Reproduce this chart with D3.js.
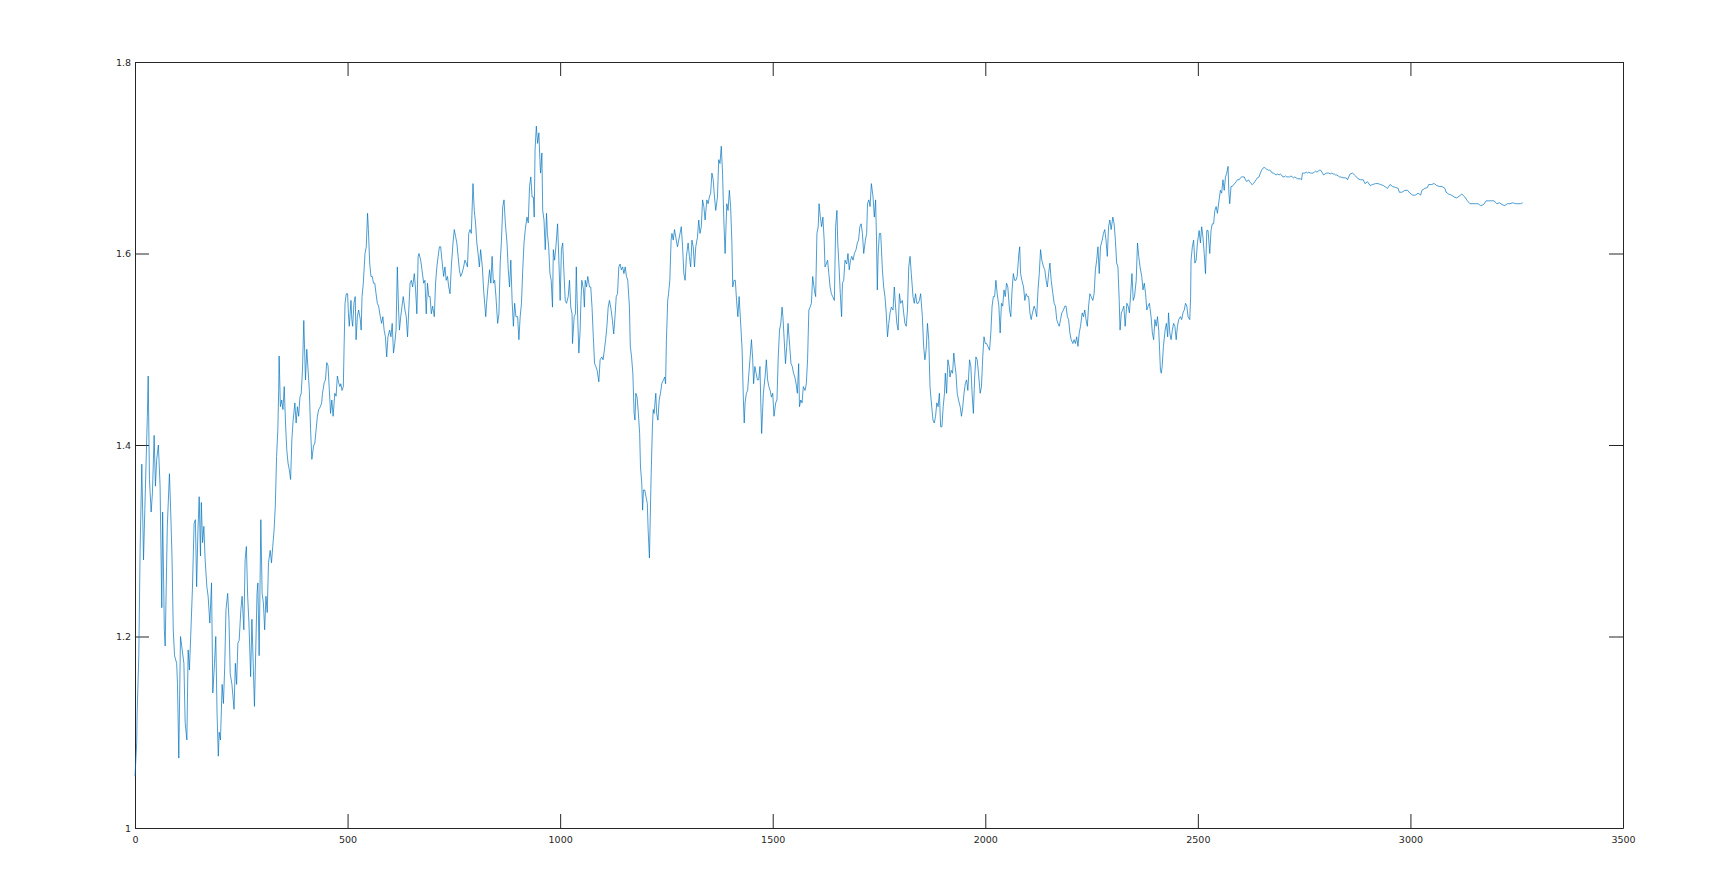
<!DOCTYPE html>
<html>
<head>
<meta charset="utf-8">
<script src="https://cdn.jsdelivr.net/npm/d3@7"></script>
<style>
  html, body { margin: 0; padding: 0; background: #ffffff; }
  svg { display: block; }
  .tick text { font-family: "DejaVu Sans", Verdana, sans-serif; font-size: 9.5px; fill: #262626; }
</style>
</head>
<body>
<svg id="chart" width="1725" height="891"></svg>
<script>
const xTicks = [0, 500, 1000, 1500, 2000, 2500, 3000, 3500];
const yTicks = [1, 1.2, 1.4, 1.6, 1.8];
const xDomain = [0, 3500];
const yDomain = [1, 1.8];

// [index, value]
const series = [
[0,1.054],[4,1.089],[5,1.12],[9,1.18],[12,1.29],[16,1.38],[20,1.28],[23,1.33],[26,1.38],[29,1.43],[31,1.472],[34,1.364],[38,1.33],[41,1.35],[45,1.41],[48,1.357],[51,1.385],[55,1.40],[59,1.357],[63,1.23],[65,1.33],[69,1.207],[71,1.19],[76,1.315],[81,1.37],[84,1.33],[87,1.284],[90,1.207],[93,1.18],[98,1.172],[100,1.15],[103,1.073],[107,1.20],[111,1.186],[115,1.172],[118,1.11],[122,1.092],[125,1.186],[128,1.165],[131,1.20],[135,1.249],[139,1.318],[142,1.322],[145,1.252],[148,1.31],[151,1.346],[154,1.284],[156,1.34],[159,1.298],[162,1.315],[165,1.28],[169,1.252],[172,1.242],[176,1.214],[180,1.256],[183,1.141],[187,1.172],[190,1.20],[193,1.12],[196,1.075],[198,1.10],[201,1.092],[205,1.15],[208,1.13],[211,1.168],[214,1.228],[218,1.245],[221,1.218],[224,1.161],[228,1.15],[233,1.124],[236,1.172],[239,1.15],[242,1.193],[245,1.196],[249,1.228],[252,1.242],[256,1.207],[259,1.28],[262,1.294],[265,1.242],[268,1.214],[272,1.158],[275,1.218],[278,1.172],[281,1.127],[284,1.186],[287,1.245],[289,1.256],[292,1.18],[296,1.322],[299,1.245],[302,1.235],[305,1.207],[308,1.242],[311,1.225],[314,1.277],[318,1.29],[321,1.277],[324,1.294],[327,1.31],[330,1.336],[333,1.388],[336,1.416],[338,1.458],[339,1.493],[342,1.44],[345,1.447],[348,1.437],[351,1.461],[354,1.423],[357,1.395],[360,1.381],[363,1.374],[366,1.364],[369,1.406],[372,1.426],[376,1.444],[379,1.423],[382,1.44],[385,1.43],[388,1.45],[391,1.454],[394,1.479],[397,1.53],[401,1.468],[404,1.50],[407,1.479],[410,1.458],[413,1.416],[416,1.385],[420,1.399],[423,1.402],[426,1.416],[429,1.43],[432,1.437],[436,1.44],[439,1.444],[441,1.454],[445,1.465],[448,1.468],[451,1.486],[454,1.483],[457,1.458],[460,1.433],[463,1.447],[466,1.43],[470,1.454],[473,1.451],[476,1.472],[479,1.465],[482,1.461],
[484,1.464],[487,1.457],[490,1.461],[492,1.506],[494,1.548],[497,1.558],[500,1.558],[502,1.537],[504,1.524],[508,1.551],[510,1.531],[512,1.524],[515,1.548],[518,1.555],[520,1.51],[523,1.534],[526,1.541],[530,1.531],[532,1.52],[534,1.555],[537,1.569],[541,1.60],[544,1.607],[547,1.642],[549,1.625],[552,1.59],[555,1.576],[558,1.576],[561,1.569],[564,1.569],[567,1.558],[570,1.548],[573,1.545],[577,1.534],[580,1.527],[583,1.534],[586,1.52],[589,1.513],[592,1.492],[595,1.513],[599,1.52],[602,1.513],[605,1.527],[608,1.496],[611,1.506],[614,1.52],[617,1.586],[620,1.541],[622,1.52],[625,1.534],[628,1.545],[631,1.555],[635,1.541],[638,1.534],[641,1.513],[644,1.541],[647,1.569],[650,1.572],[653,1.565],[657,1.579],[660,1.562],[663,1.537],[666,1.597],[668,1.60],[672,1.593],[675,1.583],[679,1.569],[682,1.572],[685,1.537],[688,1.569],[691,1.555],[694,1.555],[697,1.537],[700,1.545],[704,1.534],[707,1.569],[710,1.586],[713,1.597],[716,1.607],[719,1.607],[722,1.593],[726,1.576],[729,1.586],[732,1.572],[735,1.576],[738,1.565],[741,1.558],[744,1.586],[748,1.611],[751,1.625],[754,1.618],[757,1.611],[760,1.597],[763,1.583],[766,1.576],[769,1.579],[773,1.586],[776,1.593],[779,1.59],[782,1.586],[785,1.621],[788,1.625],[791,1.621],[795,1.673],[798,1.645],[801,1.632],[804,1.611],[807,1.60],[810,1.586],[813,1.604],[817,1.586],[820,1.562],[823,1.545],[825,1.534],[827,1.548],[831,1.569],[834,1.583],[837,1.569],[840,1.597],[843,1.569],[846,1.572],[849,1.555],[853,1.527],[856,1.537],[859,1.59],[862,1.614],[865,1.649],[868,1.656],[871,1.632],[875,1.611],[878,1.583],[881,1.565],[884,1.593],[887,1.551],[890,1.524],[893,1.548],[896,1.534],[900,1.534],[903,1.51],[906,1.534],[909,1.548],[912,1.583],[915,1.611],[918,1.625],[922,1.638],[925,1.632],[928,1.67],[931,1.68],[934,1.659],[937,1.659],[939,1.638],[941,1.708],[944,1.733],[947,1.715],[950,1.726],[953,1.691],
[954,1.684],[957,1.705],[959,1.645],[962,1.635],[965,1.604],[968,1.642],[970,1.621],[973,1.607],[976,1.579],[979,1.572],[982,1.544],[984,1.604],[987,1.593],[990,1.607],[994,1.631],[997,1.593],[1000,1.551],[1003,1.604],[1006,1.611],[1009,1.579],[1012,1.551],[1015,1.548],[1019,1.555],[1022,1.572],[1025,1.544],[1028,1.537],[1029,1.506],[1033,1.534],[1036,1.537],[1038,1.586],[1040,1.551],[1044,1.496],[1047,1.52],[1049,1.551],[1051,1.572],[1055,1.562],[1057,1.544],[1059,1.572],[1062,1.565],[1065,1.576],[1069,1.565],[1072,1.565],[1075,1.544],[1078,1.513],[1081,1.485],[1084,1.482],[1087,1.478],[1091,1.466],[1094,1.489],[1098,1.492],[1101,1.489],[1104,1.499],[1107,1.51],[1110,1.524],[1113,1.544],[1116,1.551],[1120,1.541],[1123,1.53],[1126,1.516],[1129,1.534],[1132,1.555],[1135,1.558],[1138,1.586],[1141,1.589],[1144,1.583],[1147,1.586],[1150,1.579],[1153,1.586],[1156,1.576],[1159,1.572],[1163,1.544],[1165,1.503],[1168,1.492],[1171,1.475],[1174,1.433],[1176,1.426],[1178,1.454],[1181,1.45],[1184,1.433],[1187,1.412],[1189,1.377],[1192,1.36],[1194,1.332],[1196,1.353],[1199,1.353],[1202,1.346],[1205,1.339],[1207,1.311],[1210,1.282],[1212,1.325],[1214,1.367],[1217,1.419],[1219,1.437],[1221,1.433],[1225,1.454],[1227,1.433],[1230,1.426],[1233,1.447],[1236,1.454],[1239,1.464],[1243,1.468],[1246,1.471],[1248,1.464],[1250,1.51],[1253,1.551],[1255,1.558],[1258,1.572],[1261,1.614],[1263,1.621],[1266,1.614],[1269,1.625],[1272,1.617],[1276,1.607],[1279,1.614],[1282,1.621],[1285,1.628],[1288,1.607],[1291,1.579],[1294,1.572],[1297,1.597],[1301,1.611],[1304,1.597],[1307,1.586],[1310,1.614],[1313,1.607],[1316,1.586],[1319,1.607],[1323,1.617],[1326,1.635],[1329,1.621],[1332,1.628],[1335,1.656],[1338,1.649],[1341,1.635],[1345,1.656],[1348,1.652],[1351,1.659],[1354,1.663],[1357,1.684],[1360,1.677],[1363,1.659],[1366,1.645],[1370,1.659],[1373,1.698],[1376,1.694],[1379,1.712],[1382,1.684],[1385,1.635],[1388,1.60],[1392,1.652],[1395,1.645],[1398,1.666],[1401,1.649],[1404,1.611],[1406,1.565],[1409,1.572],[1412,1.572],[1415,1.551],[1418,1.534],[1421,1.555],
[1425,1.524],[1428,1.50],[1431,1.447],[1433,1.423],[1435,1.444],[1438,1.454],[1441,1.457],[1444,1.475],[1447,1.492],[1450,1.51],[1453,1.489],[1455,1.464],[1458,1.482],[1461,1.475],[1464,1.468],[1467,1.468],[1470,1.482],[1472,1.444],[1474,1.412],[1476,1.433],[1478,1.454],[1482,1.471],[1485,1.489],[1488,1.468],[1491,1.461],[1494,1.457],[1497,1.45],[1500,1.454],[1503,1.43],[1507,1.444],[1510,1.447],[1513,1.492],[1516,1.52],[1519,1.527],[1522,1.544],[1524,1.534],[1527,1.51],[1530,1.485],[1533,1.503],[1536,1.527],[1540,1.503],[1543,1.485],[1546,1.482],[1549,1.475],[1552,1.471],[1555,1.464],[1558,1.454],[1561,1.485],[1563,1.44],[1566,1.447],[1569,1.444],[1572,1.461],[1576,1.457],[1579,1.464],[1582,1.489],[1585,1.541],[1588,1.544],[1591,1.548],[1594,1.576],[1598,1.562],[1601,1.555],[1604,1.621],[1607,1.628],[1609,1.652],[1612,1.638],[1615,1.628],[1618,1.638],[1621,1.614],[1623,1.586],[1626,1.589],[1629,1.593],[1632,1.579],[1635,1.565],[1638,1.558],[1641,1.555],[1645,1.551],[1648,1.628],[1651,1.645],[1653,1.611],[1656,1.586],[1659,1.558],[1662,1.534],[1664,1.569],[1667,1.572],[1670,1.593],[1674,1.589],[1677,1.60],[1680,1.583],[1683,1.593],[1686,1.597],[1689,1.593],[1692,1.60],[1696,1.604],[1699,1.611],[1702,1.614],[1705,1.628],[1708,1.631],[1711,1.621],[1714,1.60],[1718,1.614],[1721,1.621],[1723,1.652],[1726,1.656],[1729,1.649],[1732,1.673],[1736,1.659],[1739,1.638],[1742,1.656],[1744,1.618],[1746,1.562],[1748,1.60],[1751,1.621],[1754,1.621],[1758,1.583],[1761,1.565],[1764,1.555],[1767,1.538],[1770,1.513],[1773,1.527],[1776,1.538],[1779,1.544],[1783,1.541],[1786,1.565],[1789,1.544],[1792,1.527],[1795,1.52],[1798,1.558],[1801,1.548],[1805,1.551],[1808,1.538],[1811,1.527],[1814,1.524],[1817,1.541],[1820,1.586],[1823,1.597],[1826,1.579],[1830,1.555],[1833,1.548],[1836,1.558],[1839,1.548],[1842,1.548],[1845,1.551],[1848,1.558],[1852,1.534],[1855,1.503],[1858,1.489],[1861,1.50],[1864,1.527],[1867,1.51],[1870,1.461],[1874,1.44],[1877,1.426],[1880,1.423],[1883,1.43],[1886,1.444],[1889,1.44],[1892,1.454],
[1895,1.419],[1898,1.419],[1901,1.44],[1904,1.454],[1906,1.475],[1909,1.454],[1912,1.489],[1915,1.482],[1917,1.471],[1920,1.478],[1923,1.475],[1926,1.496],[1929,1.482],[1931,1.475],[1934,1.454],[1937,1.447],[1941,1.44],[1944,1.43],[1947,1.44],[1950,1.454],[1953,1.464],[1956,1.468],[1959,1.457],[1963,1.489],[1966,1.482],[1969,1.454],[1972,1.433],[1975,1.471],[1978,1.492],[1981,1.489],[1984,1.475],[1988,1.454],[1991,1.461],[1994,1.492],[1997,1.513],[2000,1.506],[2003,1.506],[2006,1.503],[2010,1.499],[2013,1.517],[2016,1.545],[2019,1.555],[2022,1.555],[2025,1.572],[2028,1.558],[2032,1.545],[2035,1.517],[2038,1.548],[2041,1.545],[2044,1.562],[2047,1.555],[2050,1.569],[2053,1.565],[2057,1.541],[2060,1.534],[2063,1.562],[2066,1.579],[2069,1.572],[2072,1.572],[2075,1.576],[2079,1.60],[2081,1.607],[2083,1.579],[2086,1.572],[2090,1.565],[2093,1.551],[2096,1.558],[2099,1.555],[2102,1.555],[2105,1.538],[2108,1.531],[2111,1.538],[2115,1.545],[2118,1.541],[2121,1.534],[2124,1.562],[2127,1.579],[2130,1.604],[2133,1.593],[2137,1.586],[2140,1.583],[2143,1.572],[2146,1.565],[2149,1.579],[2152,1.59],[2155,1.572],[2159,1.558],[2162,1.548],[2165,1.545],[2168,1.531],[2171,1.527],[2174,1.524],[2177,1.531],[2180,1.538],[2184,1.541],[2187,1.545],[2190,1.545],[2193,1.534],[2196,1.531],[2199,1.517],[2202,1.51],[2206,1.506],[2209,1.51],[2212,1.506],[2215,1.513],[2218,1.503],[2221,1.517],[2224,1.524],[2228,1.538],[2231,1.534],[2234,1.541],[2237,1.531],[2240,1.524],[2243,1.545],[2246,1.558],[2249,1.555],[2253,1.551],[2256,1.558],[2259,1.583],[2262,1.593],[2265,1.607],[2268,1.579],[2271,1.607],[2275,1.614],[2278,1.621],[2281,1.625],[2284,1.614],[2287,1.597],[2290,1.628],[2293,1.635],[2296,1.625],[2300,1.638],[2303,1.631],[2306,1.614],[2309,1.59],[2312,1.586],[2315,1.551],[2317,1.52],[2320,1.538],[2323,1.541],[2326,1.545],[2329,1.524],[2333,1.548],[2336,1.545],[2339,1.538],[2342,1.558],[2345,1.579],[2348,1.551],[2351,1.555],[2355,1.572],[2358,1.611],[2361,1.597],[2364,1.586],
[2368,1.576],[2371,1.562],[2374,1.569],[2377,1.558],[2380,1.541],[2383,1.545],[2386,1.548],[2390,1.534],[2393,1.517],[2396,1.51],[2399,1.531],[2402,1.524],[2405,1.534],[2408,1.52],[2410,1.499],[2412,1.478],[2414,1.475],[2416,1.482],[2419,1.503],[2423,1.52],[2426,1.527],[2429,1.513],[2431,1.538],[2434,1.517],[2437,1.51],[2440,1.52],[2443,1.527],[2446,1.524],[2449,1.51],[2452,1.524],[2455,1.531],[2459,1.534],[2462,1.531],[2465,1.538],[2468,1.541],[2471,1.548],[2474,1.545],[2477,1.534],[2481,1.531],[2483,1.555],[2484,1.593],[2487,1.607],[2490,1.614],[2493,1.59],[2496,1.593],[2499,1.611],[2503,1.624],[2506,1.611],[2509,1.628],[2512,1.617],[2515,1.60],[2518,1.579],[2521,1.624],[2524,1.624],[2528,1.60],[2531,1.624],[2534,1.631],[2537,1.631],[2540,1.645],[2543,1.649],[2546,1.642],[2550,1.656],[2553,1.666],[2556,1.663],[2559,1.677],[2562,1.666],[2565,1.68],[2568,1.684],[2571,1.691],[2573,1.663],[2575,1.652],[2578,1.67],[2581,1.67],[2584,1.672],[2587,1.673],[2590,1.675],[2593,1.677],[2597,1.677],[2600,1.679],[2603,1.68],[2606,1.68],[2609,1.68],[2612,1.677],[2615,1.675],[2619,1.677],[2622,1.675],[2625,1.673],[2628,1.672],[2631,1.673],[2634,1.675],[2637,1.677],[2640,1.679],[2644,1.68],[2647,1.684],[2650,1.687],[2653,1.689],[2656,1.69],[2659,1.689],[2662,1.688],[2666,1.687],[2669,1.687],[2672,1.686],[2675,1.684],[2678,1.684],[2681,1.683],[2684,1.682],[2688,1.683],[2691,1.682],[2694,1.683],[2697,1.682],[2700,1.68],[2703,1.68],[2706,1.681],[2709,1.68],[2713,1.68],[2716,1.68],[2719,1.681],[2722,1.68],[2725,1.679],[2728,1.68],[2731,1.679],[2735,1.678],[2738,1.678],[2741,1.678],[2744,1.677],[2746,1.684],[2749,1.684],[2752,1.684],[2755,1.685],[2758,1.684],[2761,1.685],[2764,1.684],[2767,1.684],[2771,1.684],[2774,1.685],[2777,1.686],[2780,1.685],[2783,1.686],[2786,1.687],[2789,1.687],[2793,1.684],[2796,1.682],[2799,1.683],[2802,1.684],[2805,1.684],[2808,1.684],[2811,1.683],[2815,1.684],[2818,1.683],[2821,1.683],[2824,1.682],[2827,1.682],[2830,1.681],[2833,1.68],
[2836,1.680],[2842,1.679],[2849,1.679],[2852,1.677],[2858,1.683],[2864,1.684],[2871,1.681],[2877,1.678],[2883,1.677],[2889,1.677],[2893,1.673],[2899,1.675],[2905,1.671],[2911,1.672],[2918,1.673],[2924,1.673],[2930,1.672],[2936,1.671],[2943,1.669],[2946,1.668],[2952,1.672],[2958,1.670],[2965,1.669],[2971,1.668],[2974,1.664],[2980,1.664],[2987,1.666],[2993,1.666],[2999,1.663],[3005,1.661],[3012,1.661],[3018,1.663],[3024,1.661],[3027,1.666],[3034,1.668],[3040,1.669],[3043,1.672],[3049,1.672],[3056,1.673],[3062,1.671],[3068,1.670],[3074,1.670],[3081,1.668],[3084,1.664],[3090,1.662],[3096,1.661],[3103,1.659],[3109,1.658],[3115,1.660],[3121,1.662],[3128,1.659],[3134,1.655],[3140,1.652],[3147,1.652],[3153,1.652],[3159,1.652],[3165,1.650],[3172,1.651],[3178,1.655],[3184,1.655],[3190,1.655],[3197,1.655],[3203,1.652],[3209,1.653],[3216,1.651],[3222,1.650],[3228,1.652],[3234,1.652],[3241,1.653],[3247,1.652],[3253,1.652],[3259,1.652],[3264,1.653]
];

const W = 1725, H = 891;
const margin = { left: 135, right: 102, top: 62, bottom: 63 };
const iw = W - margin.left - margin.right;
const ih = H - margin.top - margin.bottom;

const svg = d3.select("#chart");
svg.append("rect").attr("width", W).attr("height", H).attr("fill", "#ffffff");
const g = svg.append("g").attr("transform", `translate(${margin.left},${margin.top})`);

const x = d3.scaleLinear().domain(xDomain).range([0, iw]);
const y = d3.scaleLinear().domain(yDomain).range([ih, 0]);

const tickLen = 14;
const axisColor = "#262626";

function styleAxis(sel) {
  sel.select(".domain").attr("stroke", axisColor).attr("stroke-width", 1);
  sel.selectAll(".tick line").attr("stroke", axisColor).attr("stroke-width", 1);
}

const xAxisB = g.append("g").attr("transform", `translate(0,${ih})`)
  .call(d3.axisBottom(x).tickValues(xTicks).tickSizeInner(-tickLen).tickSizeOuter(0).tickPadding(8).tickFormat(d3.format("d")));
styleAxis(xAxisB);

const xAxisT = g.append("g")
  .call(d3.axisTop(x).tickValues(xTicks).tickSizeInner(-tickLen).tickSizeOuter(0).tickFormat(""));
styleAxis(xAxisT);

const yAxisL = g.append("g")
  .call(d3.axisLeft(y).tickValues(yTicks).tickSizeInner(-tickLen).tickSizeOuter(0).tickPadding(4).tickFormat(d => d3.format("~g")(d)));
styleAxis(yAxisL);

const yAxisR = g.append("g").attr("transform", `translate(${iw},0)`)
  .call(d3.axisRight(y).tickValues(yTicks).tickSizeInner(-tickLen).tickSizeOuter(0).tickFormat(""));
styleAxis(yAxisR);

const line = d3.line().x(d => x(d[0])).y(d => y(d[1]));
g.append("path").datum(series)
  .attr("fill", "none")
  .attr("stroke", "#0072bd")
  .attr("stroke-width", 0.7)
  .attr("stroke-linejoin", "round")
  .attr("d", line);
</script>
</body>
</html>
